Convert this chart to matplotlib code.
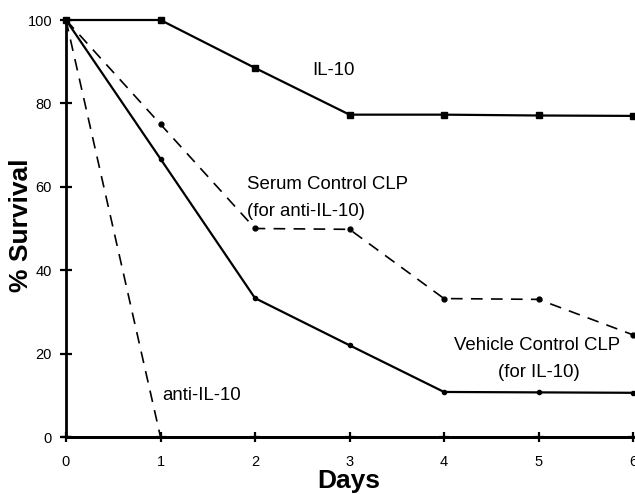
import matplotlib
matplotlib.use("Agg")
import matplotlib.pyplot as plt

# survival data
days = [0, 1, 2, 3, 4, 5, 6]
il10 = [100, 100, 88.5, 77.3, 77.3, 77.1, 77]
serum_ctrl = [100, 75, 50, 49.8, 33.2, 33, 24.5]
vehicle_ctrl = [100, 66.7, 33.3, 22, 10.8, 10.7, 10.6]
anti_il10 = [100, 0]
zero_line = [0, 0, 0, 0, 0, 0, 0]

plt.rcParams['font.family'] = ['Liberation Sans', 'DejaVu Sans']

fig = plt.figure(figsize=(6.35, 4.94), dpi=100)
ax = fig.add_axes([66/635, (494-437)/494, (633-66)/635, (437-20)/494])

ax.plot(days, il10, '-', color='black', lw=1.6, marker='s', ms=4, clip_on=False)
ax.plot(days, serum_ctrl, '--', color='black', lw=1.2, dashes=(7, 5), marker='o', ms=3.5, clip_on=False)
ax.plot(days, vehicle_ctrl, '-', color='black', lw=1.6, marker='o', ms=3, clip_on=False)
ax.plot(days[:2], anti_il10, '--', color='black', lw=1.2, dashes=(7, 5), clip_on=False)
ax.plot(days, zero_line, '-', color='black', lw=2, marker='+', ms=7, mew=1.6, clip_on=False)

fs = 13.4
ax.text(2.83, 88, "IL-10", fontsize=fs, ha='center', va='center')
ax.text(1.92, 60.5, "Serum Control CLP", fontsize=fs, ha='left', va='center')
ax.text(1.92, 54, "(for anti-IL-10)", fontsize=fs, ha='left', va='center')
ax.text(4.98, 22, "Vehicle Control CLP", fontsize=fs, ha='center', va='center')
ax.text(5.0, 15.5, "(for IL-10)", fontsize=fs, ha='center', va='center')
ax.text(1.02, 10, "anti-IL-10", fontsize=fs, ha='left', va='center')

ax.set_xlim(0, 6)
ax.set_ylim(0, 100)
ax.set_xticks(days)
ax.set_yticks([0, 20, 40, 60, 80, 100])
ax.tick_params(direction='inout', length=8, width=1.6, labelsize=10.5, pad=6)
ax.tick_params(axis='x', length=0, pad=13)
for s in ['top', 'right']:
    ax.spines[s].set_visible(False)
ax.spines['left'].set_linewidth(2)
ax.spines['bottom'].set_linewidth(2)
ax.set_xlabel("Days", fontsize=19, fontweight='bold')
ax.xaxis.set_label_coords((349-66)/567, -(469-437)/417)
ax.set_ylabel("% Survival", fontsize=19, fontweight='bold')
ax.yaxis.set_label_coords((33-66)/567, (437-225)/417)

fig.savefig("out.png", dpi=100)
